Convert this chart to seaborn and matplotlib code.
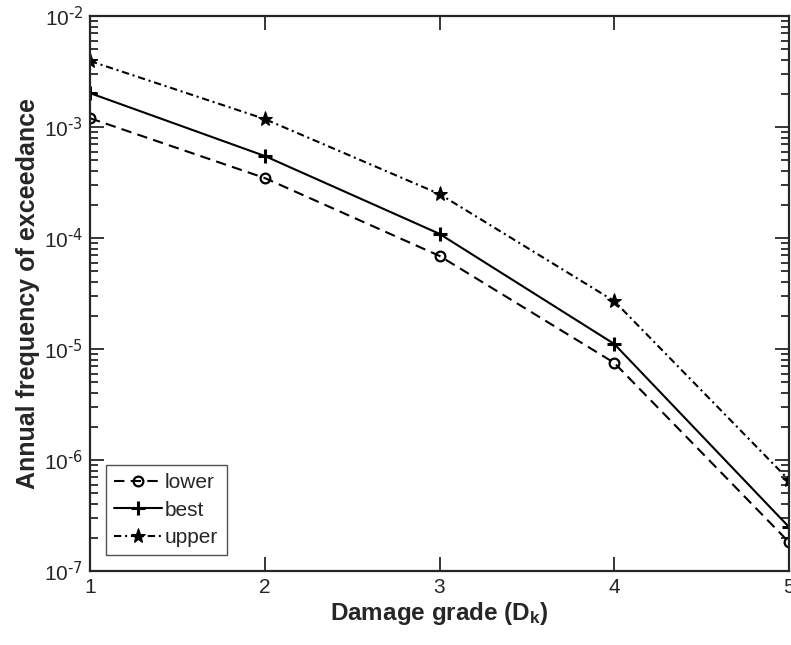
import matplotlib
matplotlib.use("Agg")
import matplotlib.pyplot as plt
import seaborn as sns
import numpy as np
from matplotlib.ticker import FixedLocator, LogLocator, FuncFormatter

grades = [1, 2, 3, 4, 5]
lower = [1.20e-3, 3.47e-4, 6.9e-5, 7.5e-6, 1.82e-7]
best = [2.02e-3, 5.48e-4, 1.09e-4, 1.11e-5, 2.49e-7]
upper = [3.93e-3, 1.18e-3, 2.49e-4, 2.7e-5, 6.6e-7]

sns.set_style("ticks")
plt.rcParams['font.family'] = ['Liberation Sans', 'DejaVu Sans']
plt.rcParams['mathtext.default'] = 'regular'

fig = plt.figure(figsize=(7.91, 6.45), dpi=100)
ax = fig.add_axes([0.1138, 0.1147, 0.8837, 0.8605])

series = [
    ("lower", lower, (0, (5, 3)), "o", dict(markersize=7, markerfacecolor="none", markeredgewidth=1.6)),
    ("best", best, "-", "+", dict(markersize=10, markeredgewidth=2.2)),
    ("upper", upper, (0, (3.5, 1.8, 1, 1.8)), "*", dict(markersize=11)),
]
for name, vals, ls, mk, kw in series:
    sns.lineplot(x=grades, y=vals, ax=ax, color="black", linestyle=ls,
                 marker=mk, label=name, linewidth=1.5, markeredgecolor="black", **kw)

ax.set_yscale("log")
ax.set_xlim(1, 5)
ax.set_ylim(1e-7, 1e-2)
ax.xaxis.set_major_locator(FixedLocator(grades))
ax.yaxis.set_major_locator(LogLocator(base=10, numticks=10))
ax.yaxis.set_minor_locator(LogLocator(base=10, subs=np.arange(2, 10), numticks=20))

def yfmt(v, pos):
    e = int(round(np.log10(v)))
    return r"10$^{\text{%d}}$" % e
ax.yaxis.set_major_formatter(FuncFormatter(yfmt))

ax.tick_params(axis="both", which="both", direction="in", top=True, right=True,
               colors="#262626", labelcolor="#262626", width=1.3)
ax.tick_params(axis="both", which="major", length=10, labelsize=15, pad=5)
ax.tick_params(axis="y", which="minor", length=6)
for s in ax.spines.values():
    s.set_color("#262626")
    s.set_linewidth(1.6)

ax.set_xlabel(r"Damage grade (D$_k$)", fontsize=17.5, fontweight="bold", color="#262626", labelpad=2)
ax.set_ylabel("Annual frequency of exceedance", fontsize=18, fontweight="bold", color="#262626", labelpad=3)

leg = ax.legend(loc="lower left", fontsize=15, frameon=True, fancybox=False,
                handlelength=2.3, handletextpad=0.15, borderaxespad=0.75,
                labelspacing=0.4, borderpad=0.4)
leg.get_frame().set_edgecolor("#262626")
leg.get_frame().set_linewidth(1.0)

fig.savefig("out.png", dpi=100)
